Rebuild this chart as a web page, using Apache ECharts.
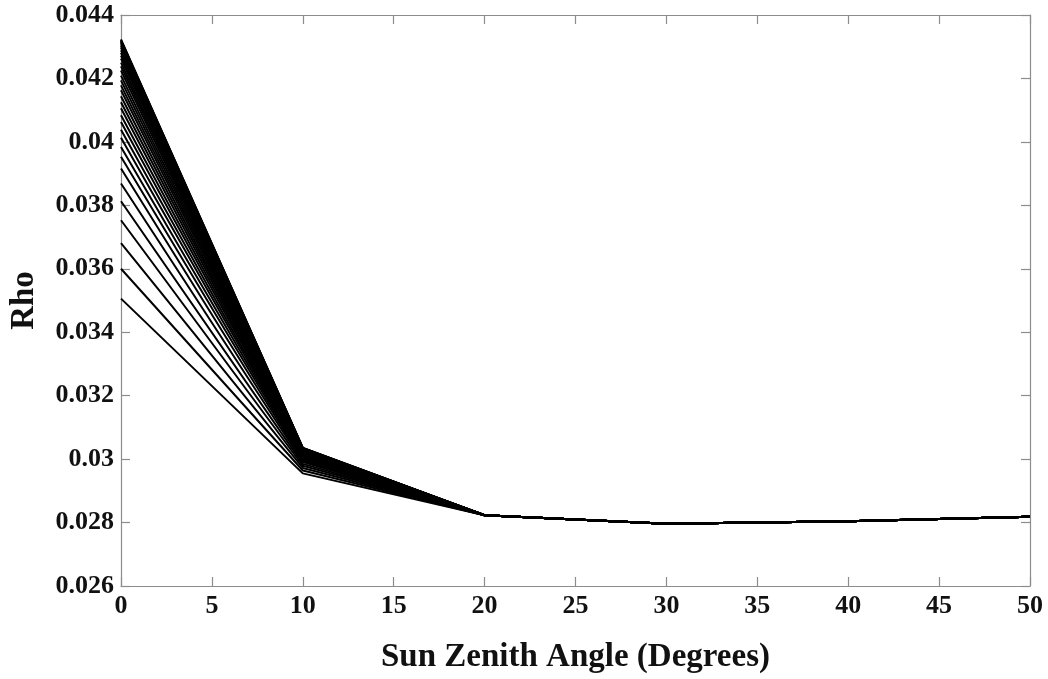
<!DOCTYPE html>
<html>
<head>
<meta charset="utf-8">
<script src="https://cdn.jsdelivr.net/npm/echarts@6/dist/echarts.min.js"></script>
<style>
html,body{margin:0;padding:0;background:#fff;}
#c{width:1048px;height:679px;}
</style>
</head>
<body>
<div id="c"></div>
<script>
// Sun zenith angles (degrees)
const angles = [0, 10, 20, 30, 40, 50];
// Rho at 0 deg for each curve
const rhoAt0 = [0.03506, 0.03600, 0.03681, 0.03753, 0.03813, 0.03869, 0.03916, 0.03953, 0.03984, 0.04013,
  0.04038, 0.04063, 0.04084, 0.04106, 0.04125, 0.04144, 0.04163, 0.04178, 0.04194, 0.04209,
  0.04225, 0.04238, 0.04250, 0.04263, 0.04272, 0.04281, 0.04289, 0.04297, 0.04303, 0.04308,
  0.04313, 0.04316, 0.04319, 0.04321, 0.04323];
// Rho at 10 deg for each curve
const rhoAt10 = [0.02955, 0.02964, 0.02972, 0.02979, 0.02985, 0.02991, 0.02995, 0.02999, 0.03002, 0.03005,
  0.03007, 0.03010, 0.03012, 0.03014, 0.03016, 0.03017, 0.03019, 0.03021, 0.03022, 0.03024,
  0.03025, 0.03027, 0.03028, 0.03029, 0.03030, 0.03031, 0.03032, 0.03032, 0.03033, 0.03034,
  0.03034, 0.03034, 0.03035, 0.03035, 0.03035];
// Shared Rho at 20, 30, 40, 50 deg
const rhoTail = [0.02823, 0.02796, 0.02804, 0.02818];
const yTicks = ['0.026','0.028','0.03','0.032','0.034','0.036','0.038','0.04','0.042','0.044'];

const series = rhoAt0.map((v0, i) => {
  const vals = [v0, rhoAt10[i]].concat(rhoTail);
  return {
    type: 'line',
    data: angles.map((a, k) => [a, vals[k]]),
    symbol: 'none',
    lineStyle: { color: '#000', width: 2 },
    silent: true,
    animation: false
  };
});

const fontFam = '"Liberation Serif","Times New Roman",serif';
const axisLineStyle = { color: '#8c8c8c', width: 1.2 };
const lblStyle = { color: '#111', fontFamily: fontFam, fontWeight: 'bold', fontSize: 26 };

const chart = echarts.init(document.getElementById('c'), null, { renderer: 'canvas' });
chart.setOption({
  animation: false,
  backgroundColor: '#fff',
  grid: { left: 117, right: 18, top: 15, bottom: 90, containLabel: false },
  xAxis: [{
    type: 'value', min: 0, max: 50, interval: 5, position: 'bottom',
    name: 'Sun Zenith Angle (Degrees)', nameLocation: 'middle', nameGap: 55,
    nameTextStyle: { color: '#111', fontFamily: fontFam, fontWeight: 'bold', fontSize: 33 },
    axisLine: { show: true, onZero: false, lineStyle: axisLineStyle },
    axisTick: { show: true, inside: true, length: 9, lineStyle: axisLineStyle },
    axisLabel: Object.assign({ margin: 7 }, lblStyle),
    splitLine: { show: false }
  }, {
    type: 'value', min: 0, max: 50, interval: 5, position: 'top',
    axisLine: { show: true, onZero: false, lineStyle: axisLineStyle },
    axisTick: { show: true, inside: true, length: 9, lineStyle: axisLineStyle },
    axisLabel: { show: false }, splitLine: { show: false }
  }],
  yAxis: [{
    type: 'value', min: 0.026, max: 0.044, interval: 0.002, position: 'left',
    name: 'Rho', nameLocation: 'middle', nameGap: 80, nameRotate: 90,
    nameTextStyle: { color: '#111', fontFamily: fontFam, fontWeight: 'bold', fontSize: 33 },
    axisLine: { show: true, onZero: false, lineStyle: axisLineStyle },
    axisTick: { show: true, inside: true, length: 9, lineStyle: axisLineStyle },
    axisLabel: Object.assign({ margin: 7, formatter: (v) => {
      const idx = Math.round((v - 0.026) / 0.002);
      return yTicks[idx] !== undefined ? yTicks[idx] : '';
    } }, lblStyle),
    splitLine: { show: false }
  }, {
    type: 'value', min: 0.026, max: 0.044, interval: 0.002, position: 'right',
    axisLine: { show: true, onZero: false, lineStyle: axisLineStyle },
    axisTick: { show: true, inside: true, length: 9, lineStyle: axisLineStyle },
    axisLabel: { show: false }, splitLine: { show: false }
  }],
  series: series
});
</script>
</body>
</html>
